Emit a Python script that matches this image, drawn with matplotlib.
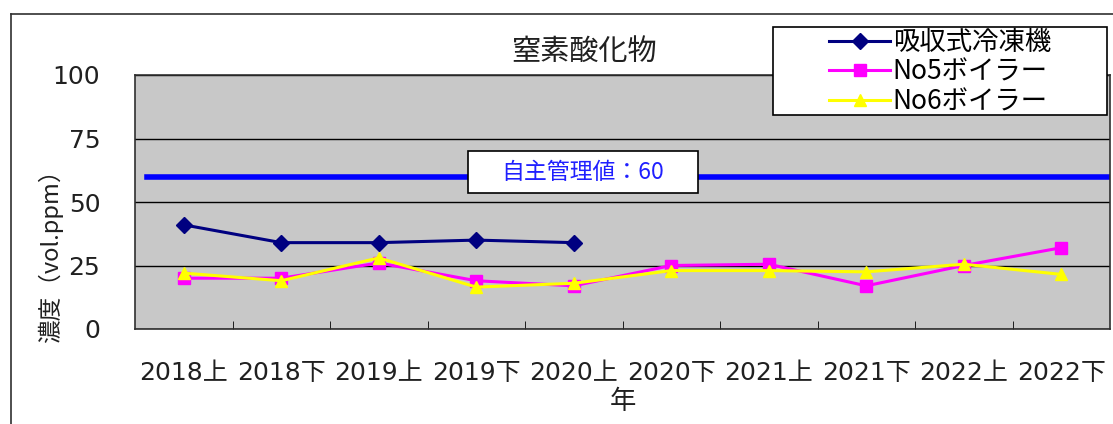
import matplotlib
matplotlib.use("Agg")
import matplotlib.pyplot as plt
from matplotlib.lines import Line2D
from matplotlib.patches import Rectangle
import numpy as np

plt.rcParams['font.family'] = ['Noto Sans CJK JP', 'DejaVu Sans']
NUM_FONT = ['DejaVu Sans', 'Noto Sans CJK JP']

periods = ['2018上', '2018下', '2019上', '2019下', '2020上',
           '2020下', '2021上', '2021下', '2022上', '2022下']
chiller = [41, 34, 34, 35, 34]
boiler5 = [20, 20, 26, 19, 17, 25, 25.5, 17, 25, 32]
boiler6 = [22, 19, 28, 16.5, 18, 23, 23, 22.5, 25.5, 21.5]
limit = 60
limit_text = '自主管理値：60'

W, H = 1113, 424
fig = plt.figure(figsize=(W / 100, H / 100), dpi=100)
fig.patch.set_facecolor('white')

# 外枠（左と上だけ見えている）
fig.add_artist(Line2D([11 / W, 1], [1 - 14 / H, 1 - 14 / H], color='#303030', lw=1.2))
fig.add_artist(Line2D([11 / W, 11 / W], [0, 1 - 14 / H], color='#303030', lw=1.2))

ax = fig.add_axes([135 / W, 1 - 329 / H, 975 / W, 254 / H])
ax.set_facecolor('#c8c8c8')

x = np.arange(len(periods))

# 自主管理値
ax.axhline(limit, xmin=0.012, xmax=1, color='#0000ff', lw=4, zorder=2)
ax.add_patch(Rectangle((0.342, 0.535), 0.235, 0.165, transform=ax.transAxes,
                       facecolor='white', edgecolor='black', lw=1.2, zorder=3))
ax.text(0.4595, 0.615, limit_text, transform=ax.transAxes, color='#2020ff',
        fontsize=16.5, ha='center', va='center', zorder=4)

ax.plot(x[:len(chiller)], chiller, color='#000080', marker='D', markersize=8,
        lw=2.2, label='吸収式冷凍機', zorder=5)
ax.plot(x, boiler5, color='#ff00ff', marker='s', markersize=8,
        lw=2.2, label='No5ボイラー', zorder=6)
ax.plot(x, boiler6, color='#ffff00', marker='^', markersize=9,
        lw=2.2, label='No6ボイラー', zorder=7)

ax.set_xlim(-0.5, len(periods) - 0.5)
ax.set_ylim(0, 100)
ax.set_yticks([0, 25, 50, 75, 100])
ax.yaxis.grid(True, color='black', lw=1)
ax.set_axisbelow(True)
ax.tick_params(axis='y', length=0, pad=25, labelcolor='#202020')

ax.set_xticks(x)
ax.set_xticklabels(periods)
ax.set_xticks(x[:-1] + 0.5, minor=True)
ax.tick_params(axis='x', which='major', length=0, pad=23, labelcolor='#202020')
ax.tick_params(axis='x', which='minor', direction='in', length=6, color='black')
for lab in ax.get_xticklabels() + ax.get_yticklabels():
    lab.set_family(NUM_FONT)
    lab.set_fontsize(18)

for s in ax.spines.values():
    s.set_color('#303030')
    s.set_linewidth(1.2)

fig.text(584 / W, 1 - 52 / H, '窒素酸化物', fontsize=21, color='#202020',
         ha='center', va='center')
ax.set_xlabel('年', fontsize=19, color='#202020', labelpad=2)
ax.set_ylabel('濃度（vol.ppm）', fontsize=17, color='#202020')
ax.yaxis.set_label_coords(-0.074, 0.31)

# 凡例
fig.add_artist(Rectangle((773 / W, 1 - 115 / H), 334 / W, 88 / H,
                         transform=fig.transFigure, facecolor='white',
                         edgecolor='black', lw=1.2))
fig.legend(loc='center', bbox_to_anchor=((773 + 334 / 2) / W, 1 - 72 / H),
           frameon=False, fontsize=19, handlelength=2.3, handletextpad=0.1,
           labelspacing=0.1, borderpad=0)

fig.savefig('out.png', dpi=100)
